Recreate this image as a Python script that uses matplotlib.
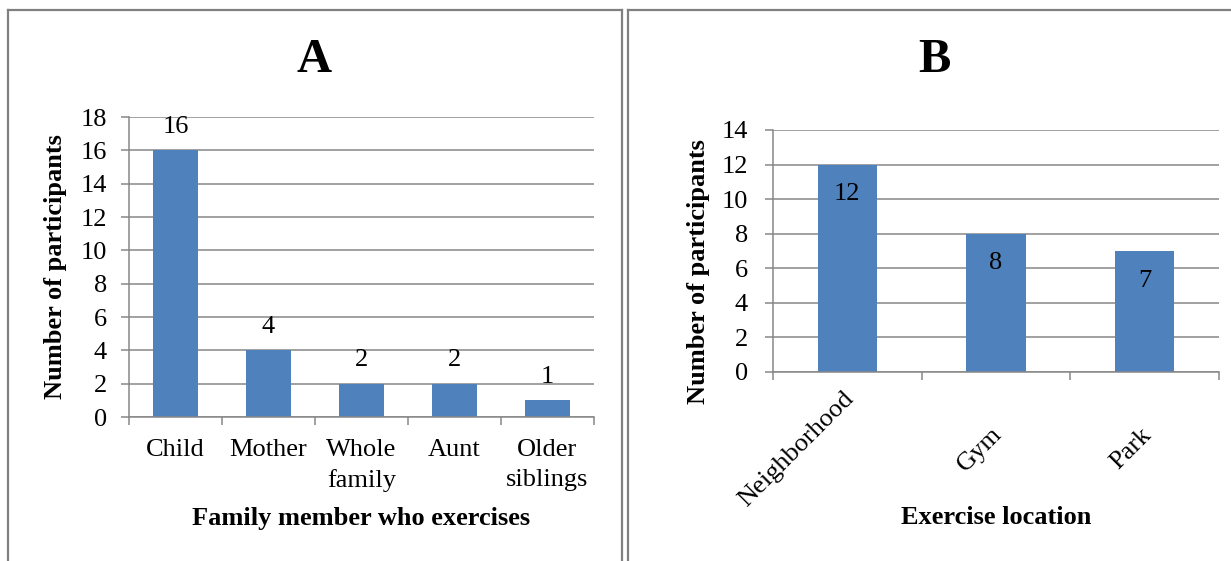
import matplotlib.pyplot as plt
from matplotlib.lines import Line2D
import numpy as np

plt.rcParams['font.family'] = ['Liberation Serif', 'DejaVu Serif']

# Panel A data
family_members = ['Child', 'Mother', 'Whole\nfamily', 'Aunt', 'Older\nsiblings']
family_counts = [16, 4, 2, 2, 1]

# Panel B data
locations = ['Neighborhood', 'Gym', 'Park']
location_counts = [12, 8, 7]

bar_color = '#4F81BD'
grid_color = '#878787'
border_color = '#808080'
fs = 19

fig = plt.figure(figsize=(12.31, 5.61), dpi=100)
W, H = 1231, 561


def px_axes(x0, y0, x1, y1):
    # pixel box (top-left origin) -> figure fraction axes
    return fig.add_axes([x0 / W, 1 - y1 / H, (x1 - x0) / W, (y1 - y0) / H])


def style_axes(ax, n, ymax, step, ypad):
    ax.set_xlim(-0.5, n - 0.5)
    ax.set_ylim(0, ymax)
    ax.set_yticks(np.arange(0, ymax + 1, step))
    ax.grid(axis='y', color=grid_color, linewidth=1.1)
    ax.set_axisbelow(True)
    for side in ['top', 'right']:
        ax.spines[side].set_visible(False)
    for side in ['left', 'bottom']:
        ax.spines[side].set_color(grid_color)
        ax.spines[side].set_linewidth(1.1)
    # tick marks sit on category boundaries, labels on category centers
    ax.set_xticks(np.arange(-0.5, n, 1.0))
    ax.set_xticklabels([])
    ax.set_xticks(np.arange(n), minor=True)
    ax.tick_params(axis='x', which='major', length=6, width=1.1, color=grid_color)
    ax.tick_params(axis='x', which='minor', length=0, labelsize=fs, pad=16)
    ax.tick_params(axis='y', length=6, width=1.1, color=grid_color, labelsize=fs, pad=ypad)


# Panel A
axA = px_axes(129, 117, 594, 417)
axA.bar(np.arange(len(family_counts)), family_counts, width=0.49, color=bar_color, zorder=2)
style_axes(axA, len(family_members), 18, 2, 10)
axA.set_xticklabels(family_members, minor=True, linespacing=1.45)
for i, v in enumerate(family_counts):
    axA.annotate(str(v), (i, v), xytext=(0, 9), textcoords='offset points',
                 ha='center', va='bottom', fontsize=fs)
axA.set_ylabel('Number of participants', fontsize=fs, fontweight='bold', va='center')
axA.yaxis.set_label_coords(-0.157, 0.5)
axA.set_xlabel('Family member who exercises', fontsize=fs, fontweight='bold', va='center')
axA.xaxis.set_label_coords(0.5, (417 - 519) / 300)

# Panel B
axB = px_axes(773, 130, 1219, 372)
axB.bar(np.arange(len(location_counts)), location_counts, width=0.4, color=bar_color, zorder=2)
style_axes(axB, len(locations), 14, 2, 12)
axB.set_xticklabels([], minor=True)
for i, v in enumerate(location_counts):
    axB.annotate(str(v), (i, v), xytext=(0, -13.5), textcoords='offset points',
                 ha='center', va='top', fontsize=fs)
axB.set_ylabel('Number of participants', fontsize=fs, fontweight='bold', va='center')
axB.yaxis.set_label_coords(-0.166, (372 - 272) / 242)
axB.set_xlabel('Exercise location', fontsize=fs, fontweight='bold', va='center')
axB.xaxis.set_label_coords(0.5, (372 - 517) / 242)

# Slanted category labels: end at the tick, all centred on one band below the axis
renderer = fig.canvas.get_renderer()
band_center = H - 449
for i, name in enumerate(locations):
    x_px = axB.transData.transform((i, 0))[0]
    t = fig.text((x_px + 3) / W, 0.5, name, rotation=45, rotation_mode='anchor',
                 ha='right', va='center', fontsize=fs)
    bb = t.get_window_extent(renderer)
    t.set_y(0.5 + (band_center - (bb.y0 + bb.y1) / 2) / H)

# Panel titles
fig.text(314 / W, 1 - 60 / H, 'A', fontsize=35, fontweight='bold', ha='center', va='center')
fig.text(934 / W, 1 - 60 / H, 'B', fontsize=35, fontweight='bold', ha='center', va='center')

# Table-style borders around each panel
def vline(x):
    fig.add_artist(Line2D([x / W, x / W], [0, 1 - 9.5 / H], color=border_color, lw=1.6))


def hline(x0, x1):
    fig.add_artist(Line2D([x0 / W, x1 / W], [1 - 9.5 / H, 1 - 9.5 / H], color=border_color, lw=1.6))


vline(8)
vline(622)
vline(628)
hline(8, 622)
hline(628, 1230)

fig.savefig('out.png', dpi=100)
